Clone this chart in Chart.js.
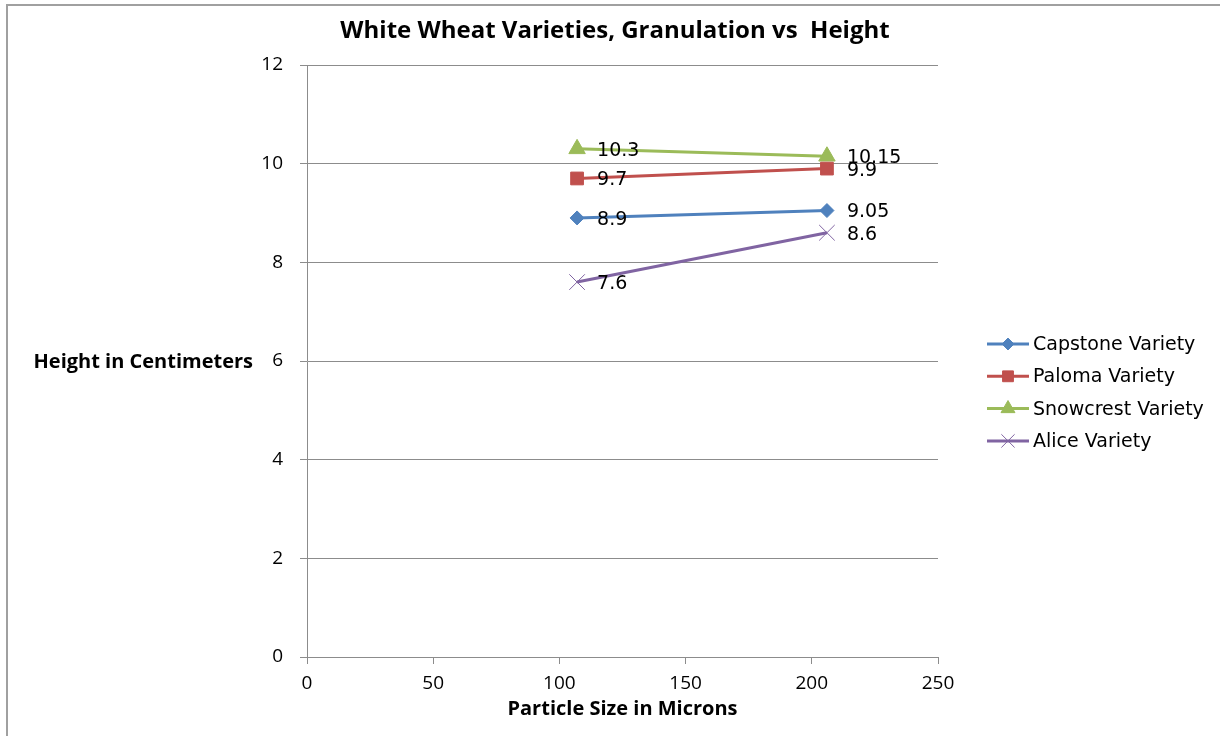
<!DOCTYPE html>
<html lang="en">
<head>
    <meta charset="UTF-8">
    <title>White Wheat Varieties, Granulation vs Height</title>
    <style>
        * { margin: 0; padding: 0; box-sizing: border-box; }
        html, body { width: 1220px; height: 736px; background: #fff; overflow: hidden; }
        .container { width: 1220px; height: 736px; position: relative; }
    </style>
    <script src="https://cdn.jsdelivr.net/npm/chart.js"></script>
</head>
<body>
    <div class="container">
        <canvas id="wheatChart"></canvas>
    </div>

    <script>
        // values
        const particleSizes = [107, 206];
        const capstone = [8.9, 9.05];
        const paloma = [9.7, 9.9];
        const snowcrest = [10.3, 10.15];
        const alice = [7.6, 8.6];
        const seriesNames = ['Capstone Variety', 'Paloma Variety', 'Snowcrest Variety', 'Alice Variety'];
        const chartTitle = 'White Wheat Varieties, Granulation vs  Height';
        const xTitle = 'Particle Size in Microns';
        const yTitle = 'Height in Centimeters';

        const tickFont = { family: 'Open Sans', size: 19 };
        const labelFont = '19px "DejaVu Sans"';
        const legendFont = '19px "DejaVu Sans"';

        function toPoints(values) {
            return values.map((v, i) => ({ x: particleSizes[i], y: v }));
        }

        function series(name, values, color, pointStyle, radius) {
            return {
                label: name,
                data: toPoints(values),
                borderColor: color,
                backgroundColor: color,
                borderWidth: 3,
                pointStyle: pointStyle,
                pointRadius: radius,
                pointHoverRadius: radius,
                pointBorderWidth: 1,
                pointBorderColor: color,
                pointBackgroundColor: color,
                showLine: true,
                fill: false
            };
        }

        const datasets = [
            series(seriesNames[0], capstone, '#4F81BD', 'rectRot', 7),
            series(seriesNames[1], paloma, '#C0504D', 'rect', 9),
            series(seriesNames[2], snowcrest, '#9BBB59', 'triangle', 9.5),
            series(seriesNames[3], alice, '#8064A2', 'crossRot', 11)
        ];

        // thin frame round the whole chart + centred title
        const framePlugin = {
            id: 'frame',
            beforeDraw(chart) {
                const ctx = chart.ctx;
                ctx.save();
                ctx.strokeStyle = '#a0a0a0';
                ctx.lineWidth = 2;
                ctx.beginPath();
                ctx.moveTo(7, chart.height + 5);
                ctx.lineTo(7, 5);
                ctx.lineTo(chart.width + 5, 5);
                ctx.stroke();

                ctx.fillStyle = '#000';
                ctx.font = 'bold 24px "Open Sans"';
                ctx.textAlign = 'center';
                ctx.textBaseline = 'middle';
                ctx.fillText(chartTitle, 615, 31);
                ctx.restore();
            }
        };

        // value next to each point
        const valueLabels = {
            id: 'valueLabels',
            afterDatasetsDraw(chart) {
                const ctx = chart.ctx;
                ctx.save();
                ctx.font = labelFont;
                ctx.fillStyle = '#000';
                ctx.textAlign = 'left';
                ctx.textBaseline = 'middle';
                chart.data.datasets.forEach((ds, i) => {
                    chart.getDatasetMeta(i).data.forEach((el, j) => {
                        ctx.fillText(String(ds.data[j].y), el.x + 20, el.y + 2);
                    });
                });
                ctx.restore();
            }
        };

        // horizontal y title + legend with line and marker
        const sideText = {
            id: 'sideText',
            afterDraw(chart) {
                const ctx = chart.ctx;
                const area = chart.chartArea;
                ctx.save();
                ctx.font = 'bold 20px "Open Sans"';
                ctx.fillStyle = '#000';
                ctx.textAlign = 'right';
                ctx.textBaseline = 'middle';
                ctx.fillText(yTitle, 253, (area.top + area.bottom) / 2 + 1);

                const x0 = area.right + 49;
                let y = 344;
                chart.data.datasets.forEach((ds) => {
                    ctx.strokeStyle = ds.borderColor;
                    ctx.fillStyle = ds.borderColor;
                    ctx.lineWidth = 3;
                    ctx.beginPath();
                    ctx.moveTo(x0, y);
                    ctx.lineTo(x0 + 42, y);
                    ctx.stroke();
                    ctx.lineWidth = 1;
                    Chart.helpers.drawPoint(ctx, {
                        pointStyle: ds.pointStyle,
                        radius: ds.pointRadius * 0.85,
                        borderWidth: 1,
                        rotation: 0
                    }, x0 + 21, y);
                    ctx.fillStyle = '#000';
                    ctx.font = legendFont;
                    ctx.textAlign = 'left';
                    ctx.fillText(ds.label, x0 + 46, y + 1);
                    y += 32.3;
                });
                ctx.restore();
            }
        };

        new Chart(document.getElementById('wheatChart'), {
            type: 'scatter',
            data: { datasets: datasets },
            plugins: [framePlugin, valueLabels, sideText],
            options: {
                responsive: true,
                maintainAspectRatio: false,
                animation: false,
                layout: { padding: { left: 0, right: 282, top: 65, bottom: 0 } },
                plugins: {
                    legend: { display: false },
                    tooltip: { enabled: false },
                    title: { display: false }
                },
                scales: {
                    x: {
                        type: 'linear',
                        min: 0,
                        max: 250,
                        ticks: { stepSize: 50, color: '#000', font: tickFont, padding: 8 },
                        grid: { drawOnChartArea: false, drawTicks: true, tickLength: 7, color: '#8c8c8c' },
                        border: { color: '#8c8c8c', width: 1 },
                        title: {
                            display: true,
                            text: xTitle,
                            color: '#000',
                            font: { family: 'Open Sans', size: 20, weight: 'bold' },
                            padding: { top: 0, bottom: 15 }
                        },
                        afterFit(scale) { scale.height = 79; }
                    },
                    y: {
                        min: 0,
                        max: 12,
                        ticks: { stepSize: 2, color: '#000', font: tickFont, padding: 17 },
                        grid: { color: '#8c8c8c', tickLength: 7 },
                        border: { color: '#8c8c8c', width: 1 },
                        afterFit(scale) { scale.width = 307; }
                    }
                }
            }
        });
    </script>
</body>
</html>
